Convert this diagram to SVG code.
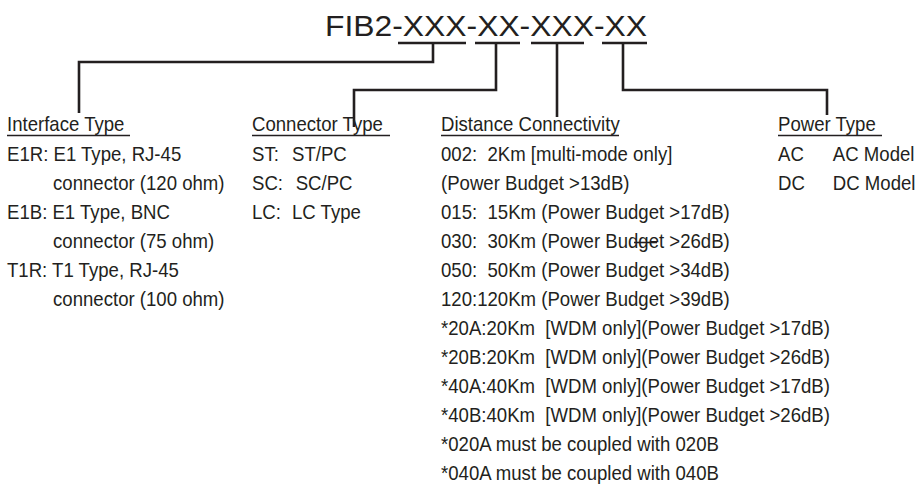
<svg xmlns="http://www.w3.org/2000/svg" width="920" height="488" viewBox="0 0 920 488">
<style>
text{font-family:"Liberation Sans",Arial,sans-serif;fill:#231f20;white-space:pre}
.b{font-size:20px}
.t{font-size:30px}
.c{fill:none;stroke:#231f20;stroke-width:2.6}
.u{stroke:#231f20;stroke-width:1.6}
.ut{stroke:#231f20;stroke-width:2.6}
</style>
<rect width="920" height="488" fill="#fff"/>
<g id="title">
<text class="t" x="325" y="36" textLength="322" lengthAdjust="spacingAndGlyphs">FIB2-XXX-XX-XXX-XX</text>
<line class="ut" x1="398" y1="43" x2="466" y2="43"/>
<line class="ut" x1="475" y1="43" x2="520" y2="43"/>
<line class="ut" x1="531" y1="43" x2="584" y2="43"/>
<line class="ut" x1="602" y1="43" x2="647" y2="43"/>
</g>
<g id="connectors">
<path class="c" d="M433,43 V62 H79 V113"/>
<path class="c" d="M496,43 V90 H354 V127"/>
<path class="c" d="M557,43 V117"/>
<path class="c" d="M623,43 V90 H827 V115"/>
</g>
<g id="interface-type">
<g class="b" transform="translate(7,0) scale(0.93,1)">
<text class="b" x="0" y="131">Interface Type</text>
<text class="b" x="0" y="161">E1R: E1 Type, RJ-45</text>
<text class="b" x="49.5" y="190">connector (120 ohm)</text>
<text class="b" x="0" y="219">E1B: E1 Type, BNC</text>
<text class="b" x="49.5" y="248">connector (75 ohm)</text>
<text class="b" x="0" y="277">T1R: T1 Type, RJ-45</text>
<text class="b" x="49.5" y="306">connector (100 ohm)</text>
</g>
<line class="u" x1="7" y1="135.5" x2="130" y2="135.5"/>
</g>
<g id="connector-type">
<g transform="translate(252,0) scale(0.93,1)">
<text class="b" x="0" y="131">Connector Type</text>
<text class="b" x="0" y="161">ST:</text>
<text class="b" x="43" y="161">ST/PC</text>
<text class="b" x="0" y="190">SC:</text>
<text class="b" x="47" y="190">SC/PC</text>
<text class="b" x="0" y="219">LC:</text>
<text class="b" x="43" y="219">LC Type</text>
</g>
<line class="u" x1="252" y1="135.5" x2="390" y2="135.5"/>
</g>
<g id="distance-connectivity">
<g transform="translate(441,0) scale(0.93,1)">
<text class="b" x="0" y="131">Distance Connectivity</text>
<text class="b" x="0" y="161">002:  2Km [multi-mode only]</text>
<text class="b" x="0" y="190">(Power Budget &gt;13dB)</text>
<text class="b" x="0" y="219">015:  15Km (Power Budget &gt;17dB)</text>
<text class="b" x="0" y="248">030:  30Km (Power Budget &gt;26dB)</text>
<text class="b" x="0" y="277">050:  50Km (Power Budget &gt;34dB)</text>
<text class="b" x="0" y="306">120:120Km (Power Budget &gt;39dB)</text>
<text class="b" x="0" y="335">*20A:20Km  [WDM only](Power Budget &gt;17dB)</text>
<text class="b" x="0" y="364">*20B:20Km  [WDM only](Power Budget &gt;26dB)</text>
<text class="b" x="0" y="393">*40A:40Km  [WDM only](Power Budget &gt;17dB)</text>
<text class="b" x="0" y="422">*40B:40Km  [WDM only](Power Budget &gt;26dB)</text>
<text class="b" x="0" y="451">*020A must be coupled with 020B</text>
<text class="b" x="0" y="480">*040A must be coupled with 040B</text>
</g>
<line class="u" x1="441" y1="135.5" x2="619" y2="135.5"/>
<line class="u" x1="634" y1="242.5" x2="657" y2="242.5"/>
</g>
<g id="power-type">
<g transform="translate(778,0) scale(0.93,1)">
<text class="b" x="0" y="131">Power Type</text>
<text class="b" x="0" y="161">AC</text>
<text class="b" x="59" y="161">AC Model</text>
<text class="b" x="0" y="190">DC</text>
<text class="b" x="59" y="190">DC Model</text>
</g>
<line class="u" x1="778" y1="135.5" x2="882" y2="135.5"/>
</g>
</svg>
